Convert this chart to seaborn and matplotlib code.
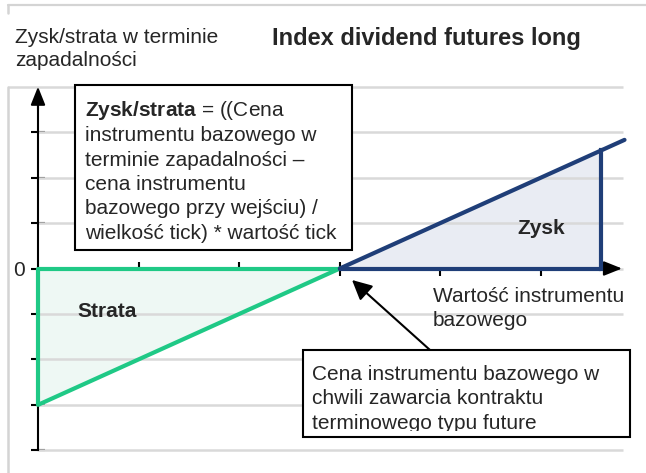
import matplotlib
matplotlib.use("Agg")
import matplotlib.pyplot as plt
import seaborn as sns
from matplotlib.patches import Rectangle
from matplotlib.transforms import Bbox, TransformedBbox

# payoff at expiry: loss part (below strike) and profit part (above strike)
strike = 3.0
loss_price = [0.0, 3.0]
loss_pnl = [-3.0, 0.0]
gain_price = [3.0, 5.6, 5.83]
gain_pnl = [0.0, 2.6, 2.83]
x_ticks = [1, 2, 3, 4, 5]
y_ticks = [-4, -3, -2, -1, 0, 1, 2, 3]
y_ticklabels = ["", "", "", "", "0", "", "", ""]
grid_levels = [-4, -3, -2, -1, 0, 1, 2, 3]
y_top = 4
y_bottom = -4

title = "Index dividend futures long"
ylabel_lines = ["Zysk/strata w terminie", "zapadalności"]
xlabel_lines = ["Wartość instrumentu", "bazowego"]
formula_lines = [r"$\mathbf{Zysk/strata}$ = ((Cena",
                 "instrumentu bazowego w",
                 "terminie zapadalności –",
                 "cena instrumentu",
                 "bazowego przy wejściu) /",
                 "wielkość tick) * wartość tick"]
strike_lines = ["Cena instrumentu bazowego w",
                "chwili zawarcia kontraktu",
                "terminowego typu future"]

sns.set_theme(style="white")
plt.rcParams["font.family"] = ["Liberation Sans", "DejaVu Sans"]
plt.rcParams["mathtext.fontset"] = "custom"
plt.rcParams["mathtext.rm"] = "Liberation Sans"
plt.rcParams["mathtext.bf"] = "Liberation Sans:bold"

green = "#1fc986"
blue = "#1f3e78"
grid_col = "#d9d9d9"

W, H = 646, 473
X0, XS, Y0, YS = 38, 100.6, 268.5, 45.45  # pixel position of origin and unit sizes


def px(x, y):
    # pixel position -> data position
    return (x - X0) / XS, (Y0 - y) / YS


fig = plt.figure(figsize=(W / 100, H / 100), dpi=100)
ax = fig.add_axes([0, 0, 1, 1])
ax.set_xlim(px(0, 0)[0], px(W, 0)[0])
ax.set_ylim(px(0, H)[1], px(0, 0)[1])
ax.patch.set_visible(False)

# outer light frame
fx0, fy0 = px(8, 5)
ax.plot([fx0, px(W, 0)[0]], [fy0, fy0], color="#d4d4d4", lw=1.6, clip_on=False)
ax.plot([fx0, fx0], [fy0, px(0, 13)[1]], color="#d4d4d4", lw=1.8, clip_on=False)
ax.plot([fx0, fx0], [px(0, 87)[1], px(0, H)[1]], color="#d4d4d4", lw=1.8, clip_on=False)

# fills
ax.fill_between(loss_price, loss_pnl, 0, color="#eef8f4", lw=0, zorder=1)
ax.fill_between(gain_price[:2], gain_pnl[:2], 0, color="#e9ecf3", lw=0, zorder=1)

# gridlines
grid_end = px(623, 0)[0]
ax.hlines(grid_levels, 0, grid_end, color=grid_col, lw=1.8, zorder=1.5)
ax.hlines(y_top, fx0, grid_end, color=grid_col, lw=1.8, zorder=1.5)

# axes through the origin
for side in ["top", "right"]:
    ax.spines[side].set_visible(False)
ax.spines["left"].set_position(("data", 0))
ax.spines["bottom"].set_position(("data", 0))
ax.spines["left"].set_bounds(y_bottom, y_top - 0.2)
ax.spines["bottom"].set_bounds(0, 5.6)
for side in ["left", "bottom"]:
    ax.spines[side].set_color("black")
    ax.spines[side].set_linewidth(1.5)
ax.set_xticks(x_ticks)
ax.set_xticklabels([])
ax.set_yticks(y_ticks)
ax.set_yticklabels(y_ticklabels, fontsize=15)
ax.tick_params(direction="inout", length=9.5, width=1.5, color="black",
               left=True, bottom=True, pad=4.5)
ax.annotate("", xy=(0, y_top), xytext=(0, y_top - 0.5),
            arrowprops=dict(arrowstyle="-|>,head_length=0.55,head_width=0.22",
                            color="black", lw=1.5, mutation_scale=20,
                            shrinkA=0, shrinkB=0))
ax.annotate("", xy=(px(622, 0)[0], 0), xytext=(5.4, 0),
            arrowprops=dict(arrowstyle="-|>,head_length=0.55,head_width=0.22",
                            color="black", lw=1.5, mutation_scale=20,
                            shrinkA=0, shrinkB=0))

# payoff lines
sns.lineplot(x=loss_price, y=loss_pnl, color=green, lw=3, sort=False,
             estimator=None, ax=ax, zorder=5)
ax.plot([loss_price[0], loss_price[-1]], [0, 0], color=green, lw=3, zorder=5)
ax.plot([loss_price[0], loss_price[0]], [0, loss_pnl[0]], color=green, lw=3,
        zorder=5, solid_capstyle="butt")
sns.lineplot(x=gain_price, y=gain_pnl, color=blue, lw=3, sort=False,
             estimator=None, ax=ax, zorder=5)
ax.plot([gain_price[0], gain_price[1]], [0, 0], color=blue, lw=3, zorder=5)
ax.plot([gain_price[1], gain_price[1]], [0, gain_pnl[1]], color=blue, lw=3,
        zorder=5, solid_capstyle="projecting")

# labels
ax.text(*px(426, 45), title, ha="center", va="baseline", fontsize=17,
        fontweight="bold")
for s, yb in zip(ylabel_lines, [43, 66]):
    ax.text(*px(15, yb), s, ha="left", va="baseline", fontsize=15)
for s, yb in zip(xlabel_lines, [302, 326]):
    ax.text(*px(433, yb), s, ha="left", va="baseline", fontsize=15)
ax.text(*px(77, 317), "Strata", ha="left", va="baseline", fontsize=15,
        fontweight="bold")
ax.text(*px(517, 234), "Zysk", ha="left", va="baseline", fontsize=15,
        fontweight="bold")

# formula box
bx0, by0 = px(75, 250)
bx1, by1 = px(352, 85)
ax.add_patch(Rectangle((bx0, by0), bx1 - bx0, by1 - by0, facecolor="white",
                       edgecolor="black", lw=1.5, zorder=6))
for s, yb in zip(formula_lines, [116.5, 141, 165.5, 190, 214.5, 239]):
    ax.text(*px(85, yb), s, ha="left", va="baseline", fontsize=15, zorder=7)

# strike box with arrow
cx0, cy0 = px(303, 437)
cx1, cy1 = px(630, 350)
ax.annotate("", xy=px(352, 280), xytext=px(430, 350),
            arrowprops=dict(arrowstyle="-|>,head_length=0.6,head_width=0.3",
                            color="black", lw=1.5, mutation_scale=20,
                            shrinkA=0, shrinkB=0), zorder=6)
ax.add_patch(Rectangle((cx0, cy0), cx1 - cx0, cy1 - cy0, facecolor="white",
                       edgecolor="none", zorder=6))
ax.add_patch(Rectangle((cx0, cy0), cx1 - cx0, cy1 - cy0, facecolor="none",
                       edgecolor="black", lw=1.5, zorder=8))
# text area inside the box is cut just under the last baseline
tx0, ty0 = px(305, 431)
tx1, ty1 = px(628, 352)
clip_box = TransformedBbox(Bbox([[tx0, ty0], [tx1, ty1]]), ax.transData)
for s, yb in zip(strike_lines, [380, 404, 429]):
    t = ax.text(*px(312, yb), s, ha="left", va="baseline", fontsize=15, zorder=7)
    t.set_clip_on(True)
    t.set_clip_path(None)
    t.set_clip_box(clip_box)

fig.savefig("out.png", dpi=100)
